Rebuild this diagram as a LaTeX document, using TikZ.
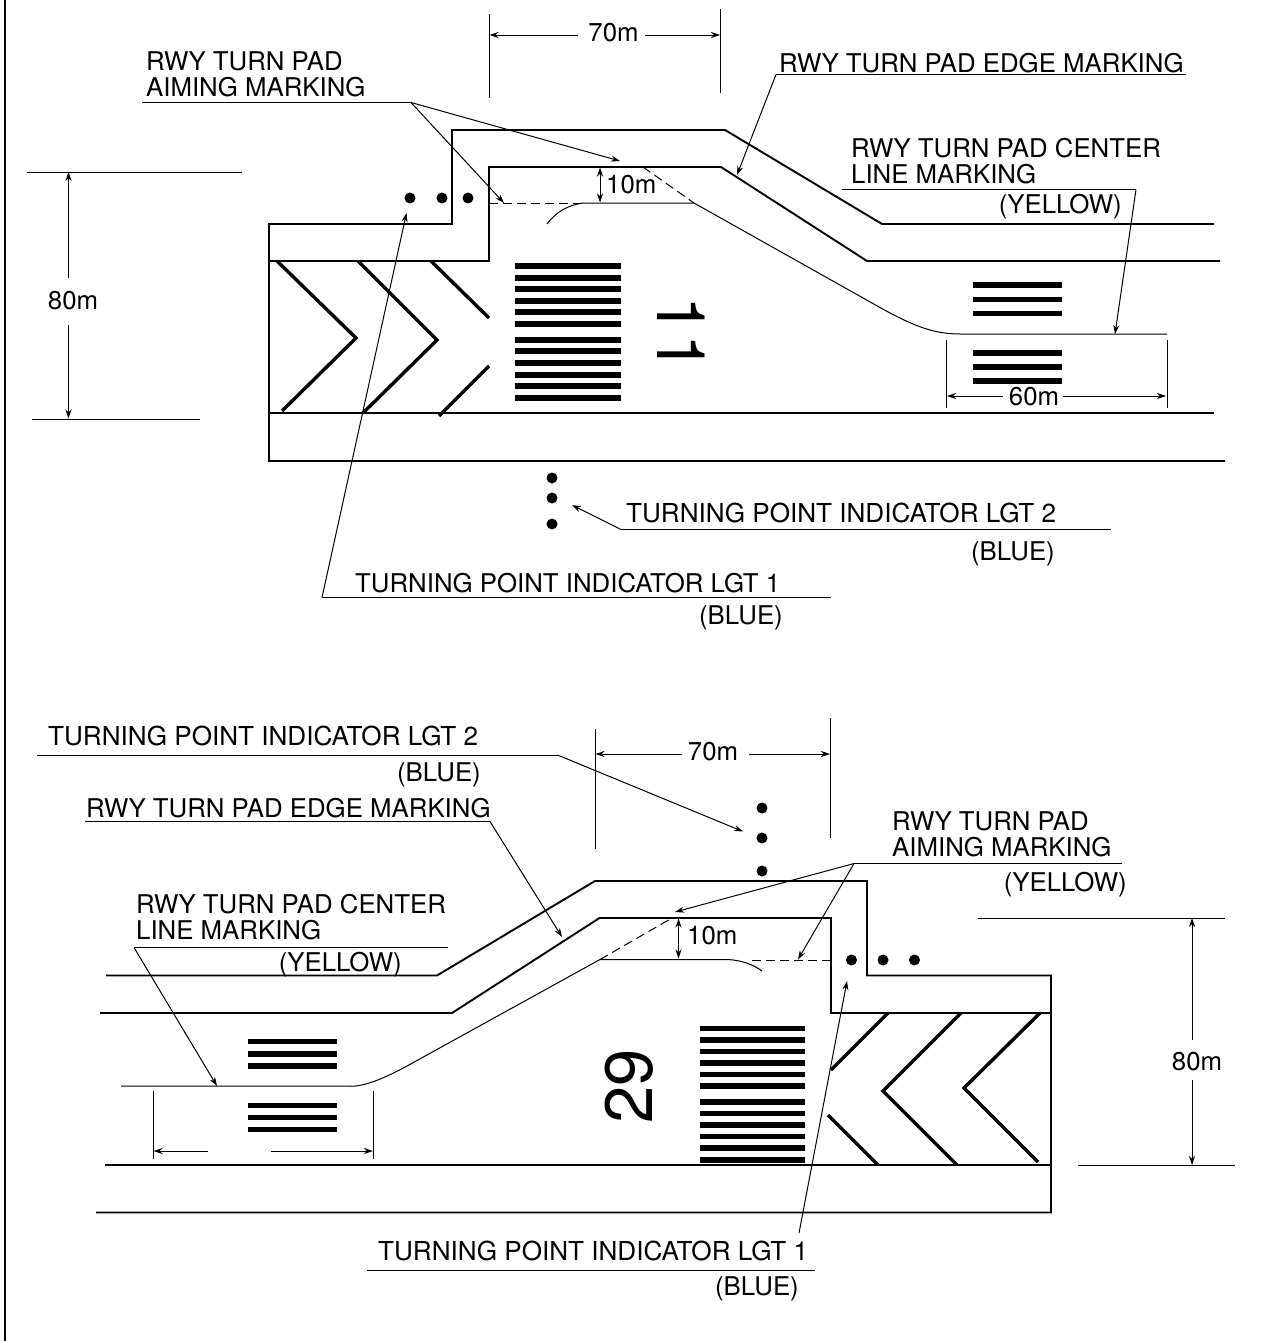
\documentclass[tikz,border=0pt]{standalone}
\usepackage{fontspec}
\setmainfont{TeX Gyre Heros}
\usetikzlibrary{arrows.meta}
\tikzset{label node/.style={inner sep=0pt,anchor=base west,font=\fontsize{25.8}{26}\selectfont},
            label right node/.style={label node,anchor=base east},
            long label/.style={label node,font=\fontsize{26.1}{26}\selectfont},
            dim node/.style={inner sep=0pt,font=\fontsize{25.8}{26}\selectfont},
            rwy number/.style={inner sep=0pt,font=\fontsize{67}{67}\selectfont},
            edge line/.style={draw,line width=1.9pt,line join=miter},
            thin line/.style={draw,line width=1pt},
            center line/.style={draw,line width=1pt},
            dash line/.style={draw,line width=1pt,dash pattern=on 9pt off 5pt},
            leader/.style={draw,line width=1pt,-{Stealth[length=9pt,width=6pt]}},
            dim arrow/.style={draw,line width=1pt,-{Stealth[length=9pt,width=6pt]}},
            bar/.style={draw,line width=5.5pt},
            chevron/.style={draw,line width=3.4pt},
            lamp/.style={circle,fill,inner sep=0pt,minimum size=11pt},
            }
\begin{document}
\begin{tikzpicture}[x=1pt,y=-1pt]
        \useasboundingbox (0,0) rectangle (1261,1341);
        \draw[edge line] (5,0) -- (5,1341);

        % upper plan, RWY 11
        \draw[edge line] (1214,224) -- (882,224) -- (725,130) -- (452,130) -- (452,224) -- (269,224)
                         -- (269,461) -- (1225,461);
        \draw[edge line] (1220,261) -- (867,261) -- (721,167) -- (489,167) -- (489,261) -- (269,261);
        \draw[edge line] (269,413) -- (1214,413);

        \draw[chevron] (277,261) -- (356,338) -- (282,411);
        \draw[chevron] (358,261) -- (437,340) -- (363,413);
        \draw[chevron] (431,261) -- (489,318);
        \draw[chevron] (489,366) -- (439,416);

        \foreach \y in {266,278,289,301,312,324,340,351,363,375,386,398}
            \draw[bar] (515,\y) -- (620.5,\y);
        \foreach \y in {285,299.5,313.5,353,367,381}
            \draw[bar] (973,\y) -- (1062,\y);
        \node[rwy number,rotate=-90] (rwy1) at (681,334) {11};

        \path[center line] (547,224) .. controls (556,212) and (568,205) .. (583,203) -- (694,203)
                           -- (880,307.5) .. controls (915,327) and (935,334) .. (960,334) -- (1167,334);
        \path[dash line] (489,203) -- (583,203);
        \path[dash line] (643,167) -- (694,203);

        \foreach \n/\x/\y in {a/410/198,b/442/198,c/468/198,d/552/478,e/552/498,f/552/524}
            \node[lamp] (lamp\n) at (\x,\y) {};

        % upper dimensions
        \path[thin line] (489,14) -- (489,98);
        \path[thin line] (720,9) -- (720,93);
        \node[dim node] (dima) at (613.5,33) {70m};
        \coordinate (dima1) at (578,35);
        \coordinate (dima2) at (489.5,35);
        \coordinate (dima3) at (645,35);
        \coordinate (dima4) at (720,35);
        \path[dim arrow] (dima1) -- (dima2);
        \path[dim arrow] (dima3) -- (dima4);

        \coordinate (dimb1) at (600,185);
        \coordinate (dimb2) at (600,167.5);
        \coordinate (dimb3) at (600,202.5);
        \path[dim arrow] (dimb1) -- (dimb2);
        \path[dim arrow] (dimb1) -- (dimb3);
        \node[label node] (dimb) at (606,193) {10m};

        \path[thin line] (946,340) -- (946,408);
        \path[thin line] (1167,340) -- (1167,408);
        \node[dim node] (dimc) at (1034,397) {60m};
        \coordinate (dimc1) at (1003,396);
        \coordinate (dimc2) at (947,396);
        \coordinate (dimc3) at (1063,396);
        \coordinate (dimc4) at (1166,396);
        \path[dim arrow] (dimc1) -- (dimc2);
        \path[dim arrow] (dimc3) -- (dimc4);

        \path[thin line] (27,172) -- (242,172);
        \path[thin line] (32,419) -- (200,419);
        \node[dim node] (dimd) at (73,301) {80m};
        \coordinate (dimd1) at (68.5,278);
        \coordinate (dimd2) at (68.5,172);
        \coordinate (dimd3) at (68.5,325);
        \coordinate (dimd4) at (68.5,418.5);
        \path[dim arrow] (dimd1) -- (dimd2);
        \path[dim arrow] (dimd3) -- (dimd4);

        % upper labels
        \node[label node] (aima) at (146,70) {RWY TURN PAD};
        \node[label node] (aimb) at (146,96) {AIMING MARKING};
        \coordinate (aim1) at (142,102.5);
        \coordinate (aim2) at (411,102.5);
        \coordinate (aim3) at (620,161);
        \coordinate (aim4) at (504,203);
        \path[thin line] (aim1) -- (aim2);
        \path[leader] (aim2) -- (aim3);
        \path[leader] (aim2) -- (aim4);

        \node[label node] (edgea) at (779,72) {RWY TURN PAD EDGE MARKING};
        \coordinate (edge1) at (1186,74.5);
        \coordinate (edge2) at (776,74.5);
        \coordinate (edge3) at (737,175);
        \path[thin line] (edge1) -- (edge2);
        \path[leader] (edge2) -- (edge3);

        \node[label node] (cena) at (851,157) {RWY TURN PAD CENTER};
        \node[label node] (cenb) at (851,183) {LINE MARKING};
        \node[label right node] (cenc) at (1122,213) {(YELLOW)};
        \coordinate (cen1) at (842,189.5);
        \coordinate (cen2) at (1136,189.5);
        \coordinate (cen3) at (1115,334);
        \path[thin line] (cen1) -- (cen2);
        \path[leader] (cen2) -- (cen3);

        \node[long label] (lgta) at (626,522) {TURNING POINT INDICATOR LGT 2};
        \node[label right node] (lgtb) at (1055,560) {(BLUE)};
        \coordinate (lgt1) at (1111,529);
        \coordinate (lgt2) at (620,529);
        \coordinate (lgt3) at (572,505);
        \path[thin line] (lgt1) -- (lgt2);
        \path[leader] (lgt2) -- (lgt3);

        \node[label node] (lgtc) at (355,592) {TURNING POINT INDICATOR LGT 1};
        \node[label right node] (lgtd) at (783,624) {(BLUE)};
        \coordinate (lgt4) at (831,597.5);
        \coordinate (lgt5) at (322,597.5);
        \coordinate (lgt6) at (406.5,213);
        \path[thin line] (lgt4) -- (lgt5);
        \path[leader] (lgt5) -- (lgt6);

        % lower plan, RWY 29
        \draw[edge line] (106,975.5) -- (437,975.5) -- (595,881) -- (867,881) -- (867,975.5) -- (1051,975.5)
                         -- (1051,1212.5) -- (96,1212.5);
        \draw[edge line] (100,1013) -- (452,1013) -- (599.5,918) -- (831,918) -- (831,1013) -- (1051,1013);
        \draw[edge line] (105,1165) -- (1051,1165);

        \draw[chevron] (1040,1013) -- (964,1088) -- (1038,1162);
        \draw[chevron] (961,1013) -- (883,1091) -- (957,1165);
        \draw[chevron] (888,1013) -- (831,1070);
        \draw[chevron] (828,1115) -- (878,1165);

        \foreach \y in {1028.5,1040,1051.5,1063,1074.5,1086,1102,1113.5,1125,1136.5,1148,1160}
            \draw[bar] (699.5,\y) -- (804.5,\y);
        \foreach \y in {1041.5,1054,1066,1105.5,1117.5,1129.5}
            \draw[bar] (247.5,\y) -- (336.5,\y);
        \node[rwy number,rotate=90] (rwy2) at (629,1086) {29};

        \path[center line] (121,1086) -- (347,1086) .. controls (362,1088) and (385,1078) .. (407,1066)
                           -- (600,959.5) -- (727,959.5) .. controls (742,960) and (754,965) .. (762,971);
        \path[dash line] (752,960) -- (831,960);
        \path[dash line] (600,959.5) -- (672,918);

        \foreach \n/\x/\y in {g/762/808,h/762/838,i/762/871,j/851.5/960,k/883/960,l/914.5/960}
            \node[lamp] (lamp\n) at (\x,\y) {};

        % lower dimensions
        \path[thin line] (595,729) -- (595,849);
        \path[thin line] (830.5,718) -- (830.5,838);
        \node[dim node] (dime) at (713,752) {70m};
        \coordinate (dime1) at (682,754);
        \coordinate (dime2) at (595.5,754);
        \coordinate (dime3) at (749,754);
        \coordinate (dime4) at (830,754);
        \path[dim arrow] (dime1) -- (dime2);
        \path[dim arrow] (dime3) -- (dime4);

        \coordinate (dimf1) at (678.5,938);
        \coordinate (dimf2) at (678.5,918.5);
        \coordinate (dimf3) at (678.5,958.5);
        \path[dim arrow] (dimf1) -- (dimf2);
        \path[dim arrow] (dimf1) -- (dimf3);
        \node[label node] (dimf) at (687,944) {10m};

        \path[thin line] (153,1091) -- (153,1159);
        \path[thin line] (373.5,1091) -- (373.5,1159);
        \coordinate (dimg1) at (208,1151);
        \coordinate (dimg2) at (153.5,1151);
        \coordinate (dimg3) at (270.5,1151);
        \coordinate (dimg4) at (373,1151);
        \path[dim arrow] (dimg1) -- (dimg2);
        \path[dim arrow] (dimg3) -- (dimg4);

        \path[thin line] (978,918) -- (1225,918);
        \path[thin line] (1078,1165) -- (1235,1165);
        \node[dim node] (dimh) at (1197,1062) {80m};
        \coordinate (dimh1) at (1192,1040);
        \coordinate (dimh2) at (1192,918);
        \coordinate (dimh3) at (1192,1080);
        \coordinate (dimh4) at (1192,1165);
        \path[dim arrow] (dimh1) -- (dimh2);
        \path[dim arrow] (dimh3) -- (dimh4);

        % lower labels
        \node[long label] (lgte) at (48,745) {TURNING POINT INDICATOR LGT 2};
        \node[label right node] (lgtf) at (481,781) {(BLUE)};
        \coordinate (lgt7) at (37,755);
        \coordinate (lgt8) at (557.5,755);
        \coordinate (lgt9) at (743,831.5);
        \path[thin line] (lgt7) -- (lgt8);
        \path[leader] (lgt8) -- (lgt9);

        \node[label node] (edgeb) at (86,817.5) {RWY TURN PAD EDGE MARKING};
        \coordinate (edge4) at (85,821.5);
        \coordinate (edge5) at (490,821.5);
        \coordinate (edge6) at (562,937);
        \path[thin line] (edge4) -- (edge5);
        \path[leader] (edge5) -- (edge6);

        \node[label node] (cend) at (136,913.5) {RWY TURN PAD CENTER};
        \node[label node] (cene) at (136,939.5) {LINE MARKING};
        \node[label right node] (cenf) at (402,971.5) {(YELLOW)};
        \coordinate (cen4) at (448,947.5);
        \coordinate (cen5) at (134,947.5);
        \coordinate (cen6) at (217,1086);
        \path[thin line] (cen4) -- (cen5);
        \path[leader] (cen5) -- (cen6);

        \node[label node] (aimc) at (892,830.5) {RWY TURN PAD};
        \node[label node] (aimd) at (892,856.5) {AIMING MARKING};
        \node[label right node] (aime) at (1127,891.5) {(YELLOW)};
        \coordinate (aim5) at (1122,863.5);
        \coordinate (aim6) at (854,863.5);
        \coordinate (aim7) at (675,912);
        \coordinate (aim8) at (798,959.5);
        \path[thin line] (aim5) -- (aim6);
        \path[leader] (aim6) -- (aim7);
        \path[leader] (aim6) -- (aim8);

        \node[long label] (lgtg) at (378,1260) {TURNING POINT INDICATOR LGT 1};
        \node[label right node] (lgth) at (799,1295) {(BLUE)};
        \coordinate (lgt10) at (367,1270);
        \coordinate (lgt11) at (815,1270);
        \coordinate (lgt12) at (799,1233);
        \coordinate (lgt13) at (847,981);
        \path[thin line] (lgt10) -- (lgt11);
        \path[leader] (lgt12) -- (lgt13);
      \end{tikzpicture}
\end{document}
